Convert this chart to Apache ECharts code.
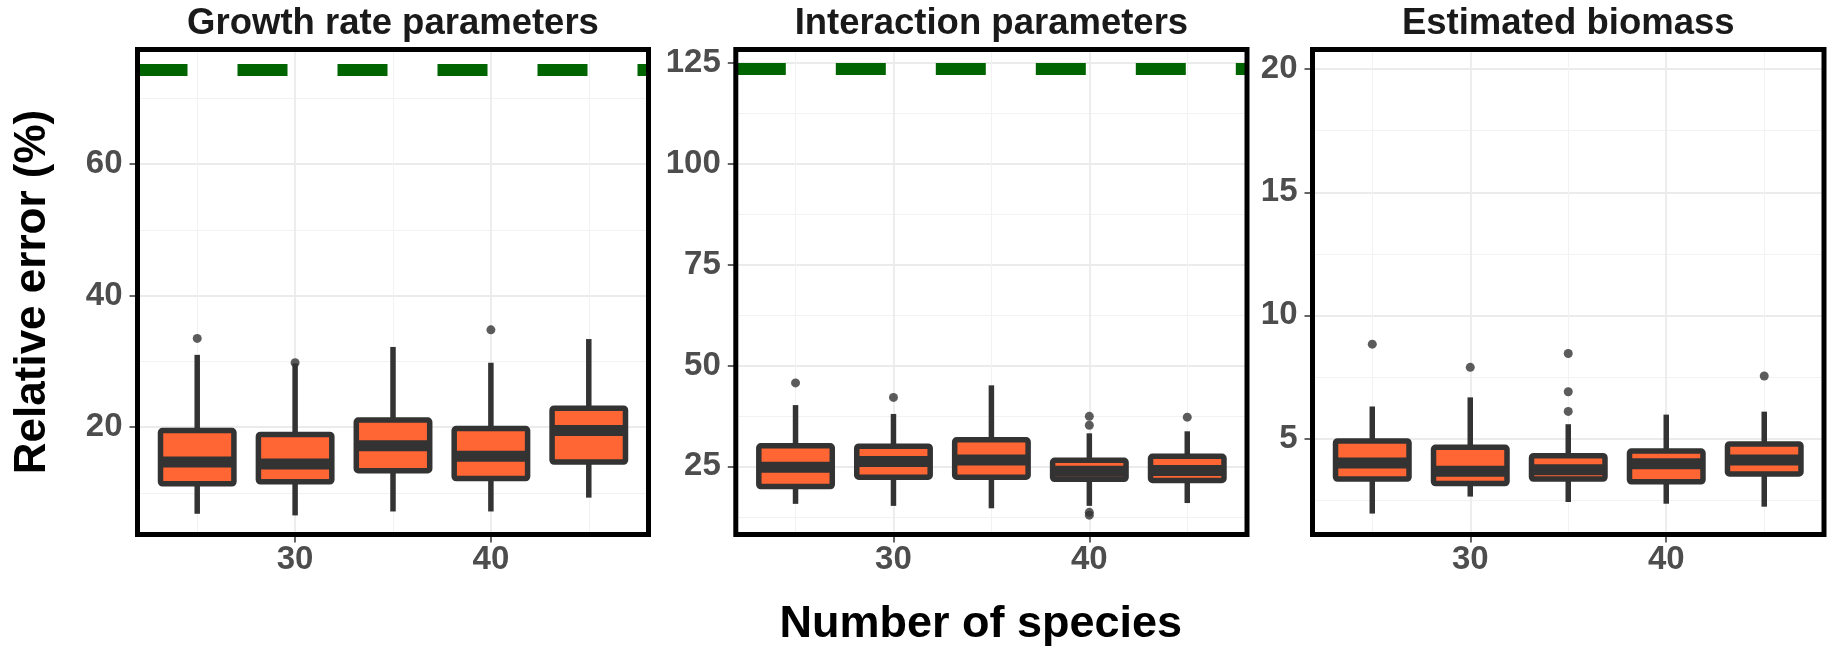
<!DOCTYPE html>
<html>
<head>
<meta charset="utf-8">
<script src="https://cdn.jsdelivr.net/npm/echarts@6/dist/echarts.min.js"></script>
<style>
  html, body { margin: 0; padding: 0; background: #fff; }
  #chart { width: 1833px; height: 650px; }
</style>
</head>
<body>
<div id="chart"></div>
<script>
// number of species (x position of each box)
const speciesCounts = [25, 30, 35, 40, 45];
const panelTitles = ['Growth rate parameters', 'Interaction parameters', 'Estimated biomass'];

// each box: [lower whisker, Q1, median, Q3, upper whisker]
const growthBoxes = [
  [6.85, 11.4, 14.7, 19.5, 31.0],
  [6.6, 11.7, 14.4, 18.9, 29.7],
  [7.2, 13.4, 17.2, 21.1, 32.2],
  [7.2, 12.2, 15.6, 19.8, 29.8],
  [9.3, 14.7, 19.5, 22.9, 33.4]
];
const growthOutliers = [[25, 33.5], [30, 29.8], [40, 34.8]];

const interactionBoxes = [
  [15.7, 20.0, 24.8, 30.1, 40.2],
  [15.2, 22.3, 26.2, 30.0, 38.0],
  [14.6, 22.3, 26.6, 31.6, 45.1],
  [15.2, 21.8, 23.8, 26.5, 33.2],
  [15.9, 21.5, 24.0, 27.5, 33.7]
];
const interactionOutliers = [[25, 45.7], [30, 42.1], [40, 37.4], [40, 35.2], [40, 13.6], [40, 12.9], [45, 37.2]];

const biomassBoxes = [
  [1.95, 3.35, 4.0, 4.9, 6.3],
  [2.64, 3.17, 3.67, 4.64, 6.67],
  [2.42, 3.35, 3.73, 4.3, 5.58],
  [2.35, 3.24, 3.97, 4.49, 5.97],
  [2.23, 3.56, 4.13, 4.78, 6.09]
];
const biomassOutliers = [[25, 8.83], [30, 7.89], [35, 8.45], [35, 6.9], [35, 6.1], [45, 7.54]];

// dashed reference line per panel (none on the biomass panel)
const thresholds = [74.3, 123.7, null];

const yRanges = [[3.7, 77.4], [8.1, 128.4], [1.1, 20.8]];
const yMajorTicks = [[20, 40, 60], [25, 50, 75, 100, 125], [5, 10, 15, 20]];
const yMinorTicks = [[10, 30, 50, 70], [12.5, 37.5, 62.5, 87.5, 112.5], [2.5, 7.5, 12.5, 17.5]];
const xRange = [21.95, 48.05];
const xMajorTicks = [30, 40];
const xMinorTicks = [25, 35, 45];

const panelBoxes = [growthBoxes, interactionBoxes, biomassBoxes];
const panelOutliers = [growthOutliers, interactionOutliers, biomassOutliers];

// layout
const FONT = '"Liberation Sans", Arial, sans-serif';
const panels = [
  { left: 137.5, width: 511 },
  { left: 735.8, width: 511.2 },
  { left: 1312.5, width: 511.5 }
];
const TOP = 49.5, HEIGHT = 485;
const BOX_HALF = 1.875;
const ORANGE = '#FF6633', DARK = '#333333';

const grid = [], xAxis = [], yAxis = [], series = [], graphic = [];

panels.forEach((p, i) => {
  grid.push({ left: p.left, top: TOP, width: p.width, height: HEIGHT, show: false });

  const tickLabel = { fontSize: 33, fontWeight: 'bold', color: '#4D4D4D', fontFamily: FONT };
  // major x axis
  xAxis.push({
    type: 'value', gridIndex: i, min: xRange[0], max: xRange[1],
    axisLine: { show: false },
    axisTick: { show: true, customValues: xMajorTicks, length: 8, lineStyle: { color: DARK, width: 1.5 } },
    axisLabel: Object.assign({ customValues: xMajorTicks, margin: 9 }, tickLabel),
    splitLine: { show: true, lineStyle: { color: '#EBEBEB', width: 1.8 } }
  });
  // minor x grid
  xAxis.push({
    type: 'value', gridIndex: i, min: xRange[0], max: xRange[1],
    axisLine: { show: false },
    axisTick: { show: false, customValues: xMinorTicks },
    axisLabel: { show: false },
    splitLine: { show: true, lineStyle: { color: '#F2F2F2', width: 1 } }
  });
  yAxis.push({
    type: 'value', gridIndex: i, min: yRanges[i][0], max: yRanges[i][1],
    axisLine: { show: false },
    axisTick: { show: true, customValues: yMajorTicks[i], length: 8, lineStyle: { color: DARK, width: 1.5 } },
    axisLabel: Object.assign({ customValues: yMajorTicks[i], margin: 15 }, tickLabel),
    splitLine: { show: true, lineStyle: { color: '#EBEBEB', width: 1.8 } }
  });
  yAxis.push({
    type: 'value', gridIndex: i, min: yRanges[i][0], max: yRanges[i][1],
    axisLine: { show: false },
    axisTick: { show: false, customValues: yMinorTicks[i] },
    axisLabel: { show: false },
    splitLine: { show: true, lineStyle: { color: '#F2F2F2', width: 1 } }
  });

  series.push({
    type: 'custom',
    xAxisIndex: 2 * i, yAxisIndex: 2 * i,
    data: speciesCounts.map((x, j) => [x].concat(panelBoxes[i][j])),
    encode: { x: 0, y: [1, 2, 3, 4, 5] },
    renderItem: function (params, api) {
      const x = api.value(0);
      const lo = api.coord([x, api.value(1)]);
      const q1 = api.coord([x, api.value(2)]);
      const med = api.coord([x, api.value(3)]);
      const q3 = api.coord([x, api.value(4)]);
      const hi = api.coord([x, api.value(5)]);
      const hw = api.size([BOX_HALF, 0])[0];
      const cx = q1[0];
      const lineStyle = { stroke: DARK, lineWidth: 5.5 };
      return {
        type: 'group',
        children: [
          { type: 'line', shape: { x1: cx, y1: q3[1], x2: cx, y2: hi[1] }, style: lineStyle },
          { type: 'line', shape: { x1: cx, y1: q1[1], x2: cx, y2: lo[1] }, style: lineStyle },
          {
            type: 'rect',
            shape: { x: cx - hw, y: q3[1], width: 2 * hw, height: q1[1] - q3[1], r: 2 },
            style: { fill: ORANGE, stroke: DARK, lineWidth: 5.5, lineJoin: 'round' }
          },
          { type: 'line', shape: { x1: cx - hw, y1: med[1], x2: cx + hw, y2: med[1] }, style: { stroke: DARK, lineWidth: 11 } }
        ]
      };
    }
  });

  const scatter = {
    type: 'scatter',
    xAxisIndex: 2 * i, yAxisIndex: 2 * i,
    data: panelOutliers[i],
    symbolSize: 9,
    itemStyle: { color: DARK },
    z: 3
  };
  if (thresholds[i] != null) {
    scatter.markLine = {
      silent: true,
      symbol: ['none', 'none'],
      label: { show: false },
      lineStyle: { color: '#006400', width: 12, type: [50, 50], cap: 'butt', opacity: 1 },
      emphasis: { disabled: true },
      data: [{ yAxis: thresholds[i] }]
    };
  }
  series.push(scatter);

  // panel border
  graphic.push({
    type: 'rect', z: 100,
    shape: { x: p.left, y: TOP, width: p.width, height: HEIGHT },
    style: { fill: 'none', stroke: '#000', lineWidth: 5 }
  });
  graphic.push({
    type: 'text', z: 100,
    x: p.left + p.width / 2, y: 24,
    style: { text: panelTitles[i], font: 'bold 36.5px ' + FONT, fill: '#1A1A1A', textAlign: 'center', textVerticalAlign: 'middle' }
  });
});

graphic.push({
  type: 'text', z: 100, x: 33, y: TOP + HEIGHT / 2, rotation: Math.PI / 2,
  style: { text: 'Relative error (%)', font: 'bold 44px ' + FONT, fill: '#000', textAlign: 'center', textVerticalAlign: 'middle' }
});
graphic.push({
  type: 'text', z: 100, x: (panels[0].left + panels[2].left + panels[2].width) / 2, y: 625,
  style: { text: 'Number of species', font: 'bold 45px ' + FONT, fill: '#000', textAlign: 'center', textVerticalAlign: 'middle' }
});

const chart = echarts.init(document.getElementById('chart'));
chart.setOption({
  animation: false,
  backgroundColor: '#fff',
  grid: grid,
  xAxis: xAxis,
  yAxis: yAxis,
  series: series,
  graphic: graphic
});
</script>
</body>
</html>
